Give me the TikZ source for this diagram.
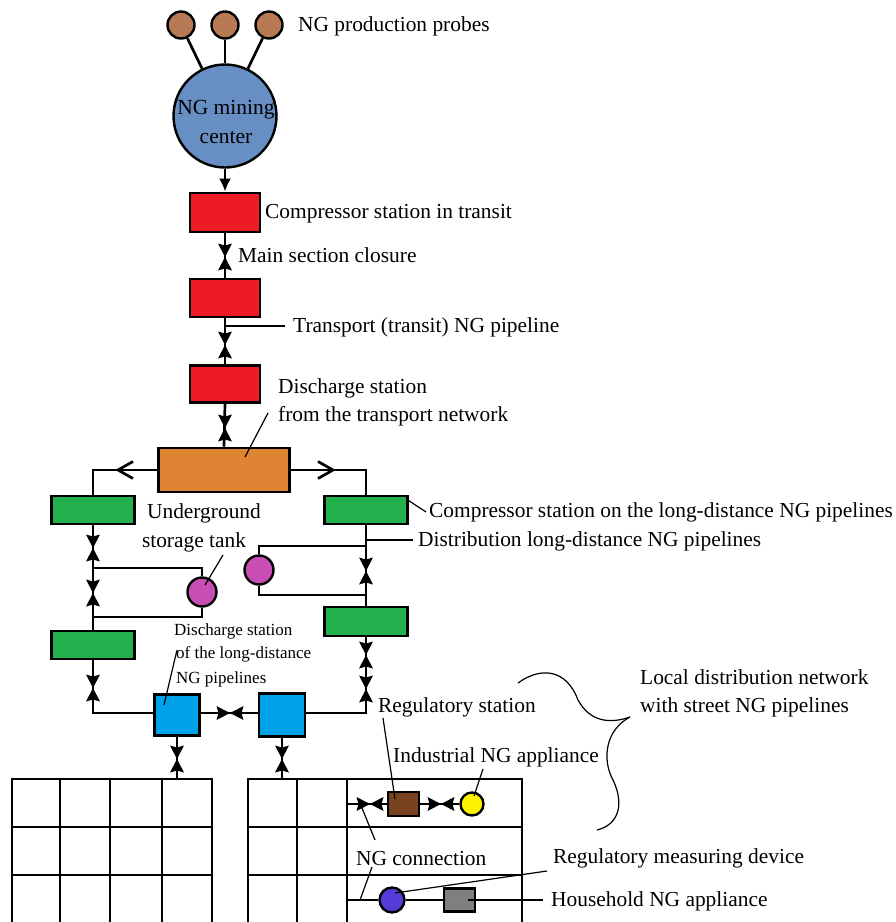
\documentclass[tikz,border=0pt]{standalone}
\usepackage{fontspec}
\setmainfont{Liberation Serif}
\usetikzlibrary{arrows.meta,calc}
\definecolor{probe}{RGB}{184,122,85}
\definecolor{mining}{RGB}{104,143,196}
\definecolor{redbox}{RGB}{237,28,36}
\definecolor{orangebox}{RGB}{222,132,50}
\definecolor{greenbox}{RGB}{34,177,76}
\definecolor{magentac}{RGB}{200,78,180}
\definecolor{bluebox}{RGB}{0,162,232}
\definecolor{brownbox}{RGB}{122,67,32}
\definecolor{yellowc}{RGB}{255,242,0}
\definecolor{purplec}{RGB}{85,60,216}
\definecolor{graybox}{RGB}{127,127,127}
\begin{document}
\begin{tikzpicture}[x=1pt,y=-1pt,
  pipe/.style={line width=2.7pt},
  lead/.style={line width=1.2pt},
  sbox/.style n args={2}{draw, line width=2.7pt, inner sep=0pt, minimum width=#1pt, minimum height=#2pt},
  circ/.style={circle, draw, line width=2.4pt, inner sep=0pt, minimum size=#1},
  lbl/.style={anchor=base west, inner sep=0pt, font=\fontsize{21.4}{26}\selectfont},
  slbl/.style={anchor=base west, inner sep=0pt, font=\fontsize{17}{20}\selectfont},
  vvalve/.pic={\fill (-7,-13.5) -- (0,-11.5) -- (7,-13.5) -- (0,0) -- cycle;
               \fill (-7,13.5) -- (0,11.5) -- (7,13.5) -- (0,0) -- cycle;},
  hvalve/.pic={\fill (-13.5,-7) -- (-11.5,0) -- (-13.5,7) -- (0,0) -- cycle;
               \fill (13.5,-7) -- (11.5,0) -- (13.5,7) -- (0,0) -- cycle;}
]
\useasboundingbox (0,0) rectangle (896,922);

% ---------- nodes ----------
\node[circ=27pt, fill=probe] (p1) at (181,25) {};
\node[circ=27pt, fill=probe] (p2) at (225,25) {};
\node[circ=27pt, fill=probe] (p3) at (269,25) {};
\node[circ=103pt, fill=mining] (mc) at (225,116) {};
\node[align=center, inner sep=0pt, font=\fontsize{21.5}{29}\selectfont] (mct) at (226,122) {NG mining\\center};

\node[sbox={70}{39}, fill=redbox] (r1) at (225,212.5) {};
\node[sbox={70}{38}, fill=redbox] (r2) at (225,298) {};
\node[sbox={70}{37}, fill=redbox] (r3) at (225,384) {};
\node[sbox={131}{44}, fill=orangebox] (ob) at (224,470) {};

\node[sbox={83}{28}, fill=greenbox] (gl1) at (93,510) {};
\node[sbox={83}{28}, fill=greenbox] (gr1) at (366,510) {};
\node[sbox={83}{28}, fill=greenbox] (gl2) at (93,645) {};
\node[sbox={83}{29}, fill=greenbox] (gr2) at (366,621.5) {};

\node[circ=29pt, fill=magentac] (ml) at (202,592) {};
\node[circ=29pt, fill=magentac] (mr) at (259,570) {};

\node[sbox={45}{41}, fill=bluebox] (bl) at (177,715) {};
\node[sbox={46}{43}, fill=bluebox] (br) at (282,715) {};

\node[sbox={31}{24}, fill=brownbox] (rs) at (403.5,804) {};
\node[circ=23pt, fill=yellowc] (ia) at (472,804) {};
\node[circ=25pt, fill=purplec] (rm) at (392,900) {};
\node[sbox={31}{23}, fill=graybox] (ha) at (459.5,900) {};

% ---------- coordinates ----------
\coordinate (ol) at (93,470);
\coordinate (or) at (366,470);
\coordinate (tipl) at (118,470);
\coordinate (tipr) at (333,470);
\coordinate (jl1) at (93,568);
\coordinate (jl2) at (93,617);
\coordinate (jr1) at (366,546);
\coordinate (jr2) at (366,595);
\coordinate (cl) at (93,713);
\coordinate (cr) at (366,713);
\coordinate (g1) at (177,779);
\coordinate (g2) at (282,779);
\coordinate (ind) at (347,804);
\coordinate (hh) at (347,900);

% ---------- pipes ----------
\draw[pipe] (p1) -- (mc);
\draw[pipe] (p2) -- (mc);
\draw[pipe] (p3) -- (mc);
\draw[pipe, -{Latex[length=13pt,width=12pt]}] (mc.south) -- (r1.north);
\draw[pipe] (r1.south) -- (r2.north);
\pic at (225,257) {vvalve};
\draw[pipe] (r2.south) -- (r3.north);
\pic at (225,345) {vvalve};
\draw[pipe] (r3.south) -- (ob.north);
\pic at (225,428) {vvalve};

\draw[pipe] (ob.west) -- (ol) -- (gl1.north);
\draw[pipe] ($(tipl)+(15,-8.5)$) -- (tipl) -- ($(tipl)+(15,8.5)$);
\draw[pipe] (ob.east) -- (or) -- (gr1.north);
\draw[pipe] ($(tipr)+(-15,-8.5)$) -- (tipr) -- ($(tipr)+(-15,8.5)$);

% left long-distance line
\draw[pipe] (gl1.south) -- (gl2.north);
\pic at (93,548) {vvalve};
\pic at (93,593) {vvalve};
\draw[pipe] (jl1) -- (jl1 -| ml) -- (ml.north);
\draw[pipe] (ml.south) -- (jl2 -| ml) -- (jl2);
\draw[pipe] (gl2.south) -- (cl) -- (cl -| bl.west);
\pic at (93,688) {vvalve};

% right long-distance line
\draw[pipe] (gr1.south) -- (gr2.north);
\pic at (366,571) {vvalve};
\draw[pipe] (jr1) -- (jr1 -| mr) -- (mr.north);
\draw[pipe] (mr.south) -- (jr2 -| mr) -- (jr2);
\draw[pipe] (gr2.south) -- (cr) -- (cr -| br.east);
\pic at (366,655) {vvalve};
\pic at (366,689) {vvalve};

% between discharge stations
\draw[pipe] (cl -| bl.east) -- (cl -| br.west);
\pic at (230,713) {hvalve};
\draw[pipe] (bl.south) -- (g1);
\pic at (177,759) {vvalve};
\draw[pipe] (br.south) -- (g2);
\pic at (282,759) {vvalve};

% ---------- street grids ----------
\draw[pipe] (12,924) -- (12,779) -- (212,779) -- (212,924);
\foreach \x in {60,110,162} \draw[pipe] (\x,779) -- (\x,924);
\foreach \y in {827,875} \draw[pipe] (12,\y) -- (212,\y);
\draw[pipe] (248,924) -- (248,779) -- (522,779) -- (522,924);
\foreach \x in {297,347} \draw[pipe] (\x,779) -- (\x,924);
\foreach \y in {827,875} \draw[pipe] (248,\y) -- (522,\y);

% consumers
\draw[pipe] (ind) -- (rs.west);
\pic at (370,804) {hvalve};
\draw[pipe] (rs.east) -- (ia.west);
\pic at (441,804) {hvalve};
\draw[pipe] (hh) -- (rm.west);
\draw[pipe] (rm.east) -- (ha.west);

% ---------- labels ----------
\node[lbl] (t1) at (298,31) {NG production probes};
\node[lbl] (t2) at (265,218) {Compressor station in transit};
\node[lbl] (t3) at (238,262) {Main section closure};
\node[lbl] (t4) at (293,332) {Transport (transit) NG pipeline};
\draw[lead] (225,326) -- (285,326);
\node[lbl] (t5) at (278,393) {Discharge station};
\node[lbl] (t6) at (278,421) {from the transport network};
\draw[lead] (268,413) -- (245,457);
\node[anchor=base, inner sep=0pt, font=\fontsize{21.4}{26}\selectfont] (t7) at (204,518) {Underground};
\node[anchor=base, inner sep=0pt, font=\fontsize{21.4}{26}\selectfont] (t8) at (194,547) {storage tank};
\draw[lead] (223,555) -- (205,585);
\node[lbl] (t9) at (429,517) {Compressor station on the long-distance NG pipelines};
\draw[lead] (gr1.north east) ++(0,6) -- (426,512);
\node[lbl] (t10) at (418,546) {Distribution long-distance NG pipelines};
\draw[lead] (366,540) -- (413,540);
\node[slbl] (t11) at (174,635) {Discharge station};
\node[slbl] (t12) at (176,658) {of the long-distance};
\node[slbl] (t13) at (176,683) {NG pipelines};
\draw[lead] (177,650) -- (164,705);
\node[lbl] (t14) at (378,712) {Regulatory station};
\draw[lead] (383,718) -- (395,799);
\node[lbl] (t15) at (393,762) {Industrial NG appliance};
\draw[lead] (483,769) -- (474,796);
\node[lbl] (t16) at (640,684) {Local distribution network};
\node[lbl] (t17) at (640,712) {with street NG pipelines};
\draw[lead] (518,683) .. controls (540,667) and (566,668) .. (578,700)
  .. controls (590,722) and (610,724) .. (630,717);
\draw[lead] (630,717) .. controls (605,730) and (602,760) .. (613,780)
  .. controls (625,805) and (618,825) .. (597,830);
\node[lbl] (t18) at (356,865) {NG connection};
\draw[lead] (375,840) -- (362,808);
\draw[lead] (372,867) -- (360,900);
\node[lbl] (t19) at (553,863) {Regulatory measuring device};
\draw[lead] (547,871) -- (395,893);
\node[lbl] (t20) at (551,906) {Household NG appliance};
\draw[lead] (468,900) -- (543,900);
\end{tikzpicture}
\end{document}
